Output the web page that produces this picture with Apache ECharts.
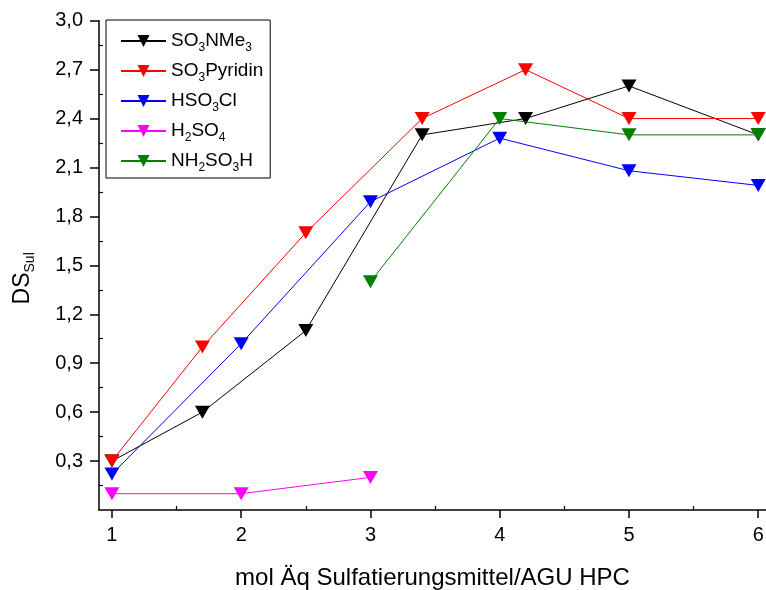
<!DOCTYPE html>
<html><head><meta charset="utf-8">
<script src="https://cdn.jsdelivr.net/npm/echarts@6/dist/echarts.min.js"></script>
<style>html,body{margin:0;padding:0;background:#fff}#c{width:766px;height:590px}</style>
</head><body><div id="c"></div>
<script>
// ---- data ----
const seriesNames = ['SO3NMe3', 'SO3Pyridin', 'HSO3Cl', 'H2SO4', 'NH2SO3H'];
const xNMe3 = [1, 1.7, 2.5, 3.4, 4.2, 5, 6];
const yNMe3 = [0.3, 0.6, 1.1, 2.3, 2.4, 2.6, 2.3];
const xPyridin = [1, 1.7, 2.5, 3.4, 4.2, 5, 6];
const yPyridin = [0.3, 1.0, 1.7, 2.4, 2.7, 2.4, 2.4];
const xHSO3Cl = [1, 2, 3, 4, 5, 6];
const yHSO3Cl = [0.22, 1.02, 1.89, 2.28, 2.08, 1.99];
const xH2SO4 = [1, 2, 3];
const yH2SO4 = [0.1, 0.1, 0.2];
const xNH2SO3H = [3, 4, 5, 6];
const yNH2SO3H = [1.4, 2.4, 2.3, 2.3];
const xTicks = [1, 2, 3, 4, 5, 6];
const xMinorTicks = [1.5, 2.5, 3.5, 4.5, 5.5];
const yTicks = [0.3, 0.6, 0.9, 1.2, 1.5, 1.8, 2.1, 2.4, 2.7, 3.0];
const yMinorTicks = [0.15, 0.45, 0.75, 1.05, 1.35, 1.65, 1.95, 2.25, 2.55, 2.85];
const xTitle = 'mol Äq Sulfatierungsmittel/AGU HPC';
const yTitle = '{d|DS}{s|Sul}';

// ---- chart ----
const colors = ['#000000', '#ff0000', '#0000ff', '#ff00ff', '#008000'];
const xs = [xNMe3, xPyridin, xHSO3Cl, xH2SO4, xNH2SO3H];
const ys = [yNMe3, yPyridin, yHSO3Cl, yH2SO4, yNH2SO3H];
const FONT = '"Liberation Sans", Arial, sans-serif';
const XMIN = 0.9, XMAX = 6.06, YMIN = 0, YMAX = 3.0;
const tri = 'path://M0,0L12,0L6,10Z';

function sub(name) {
  return name.replace(/(\d+)|(\D+)/g, (m, d, t) => d ? '{s|' + d + '}' : '{n|' + t + '}');
}

const series = seriesNames.map((n, i) => ({
  name: n,
  type: 'line',
  xAxisIndex: 0, yAxisIndex: 0,
  data: xs[i].map((x, j) => [x, ys[i][j]]),
  symbol: tri,
  symbolSize: [15, 13],
  showAllSymbol: true,
  color: colors[i],
  itemStyle: { color: colors[i] },
  lineStyle: { color: colors[i], width: 1 },
  emphasis: { disabled: true },
  animation: false,
  z: 2 + i
}));

const chart = echarts.init(document.getElementById('c'), null, { renderer: 'canvas' });
chart.setOption({
  animation: false,
  backgroundColor: '#fff',
  textStyle: { fontFamily: FONT, color: '#000' },
  grid: { left: 99, right: 0, top: 20.7, bottom: 80, containLabel: false, outerBoundsMode: 'none' },
  legend: {
    orient: 'vertical',
    left: 106, top: 20,
    padding: [8, 7, 4, 14],
    borderColor: '#000', borderWidth: 1,
    backgroundColor: '#fff',
    itemWidth: 45, itemHeight: 15, itemGap: 4,
    data: seriesNames,
    formatter: (name) => sub(name),
    textStyle: {
      fontFamily: FONT, color: '#000',
      rich: {
        n: { fontSize: 19, lineHeight: 26, fontFamily: FONT, color: '#000' },
        s: { fontSize: 12, lineHeight: 12, padding: [14, 0, 0, 0], fontFamily: FONT, color: '#000' }
      }
    }
  },
  xAxis: [{
    type: 'value', min: XMIN, max: XMAX, position: 'bottom',
    name: xTitle, nameLocation: 'middle', nameGap: 56,
    nameTextStyle: { fontSize: 24, fontFamily: FONT, color: '#000' },
    axisLine: { show: true, onZero: false, lineStyle: { color: '#000', width: 1.5 } },
    axisTick: { show: true, inside: false, length: 8, customValues: xTicks, lineStyle: { color: '#000', width: 1.5 } },
    axisLabel: { show: true, margin: 15, fontSize: 20, fontFamily: FONT, color: '#000', customValues: xTicks, formatter: v => String(v) },
    splitLine: { show: false }
  }, {
    type: 'value', min: XMIN, max: XMAX, position: 'bottom', gridIndex: 0,
    axisLine: { show: false },
    axisTick: { show: true, inside: true, length: 4, customValues: xMinorTicks, lineStyle: { color: '#000', width: 1.2 } },
    axisLabel: { show: false },
    splitLine: { show: false }
  }],
  yAxis: [{
    type: 'value', min: YMIN, max: YMAX, interval: 0.3, position: 'left',
    name: yTitle, nameLocation: 'middle', nameGap: 62, nameRotate: 90,
    nameTextStyle: {
      fontFamily: FONT, color: '#000',
      rich: {
        d: { fontSize: 23, lineHeight: 28, fontFamily: FONT, color: '#000' },
        s: { fontSize: 14, lineHeight: 14, padding: [14, 26, 0, 0], fontFamily: FONT, color: '#000' }
      }
    },
    axisLine: { show: true, onZero: false, lineStyle: { color: '#000', width: 1.5 } },
    axisTick: { show: true, inside: false, length: 9, customValues: yTicks, lineStyle: { color: '#000', width: 1.5 } },
    axisLabel: { show: true, margin: 16, fontSize: 20, fontFamily: FONT, color: '#000', customValues: yTicks,
      formatter: v => v.toFixed(1).replace('.', ',') },
    splitLine: { show: false }
  }, {
    type: 'value', min: YMIN, max: YMAX, interval: 0.3, position: 'left', gridIndex: 0,
    axisLine: { show: false },
    axisTick: { show: true, inside: true, length: 4, customValues: yMinorTicks, lineStyle: { color: '#000', width: 1.2 } },
    axisLabel: { show: false },
    splitLine: { show: false }
  }],
  series: series
});
</script>
</body></html>
